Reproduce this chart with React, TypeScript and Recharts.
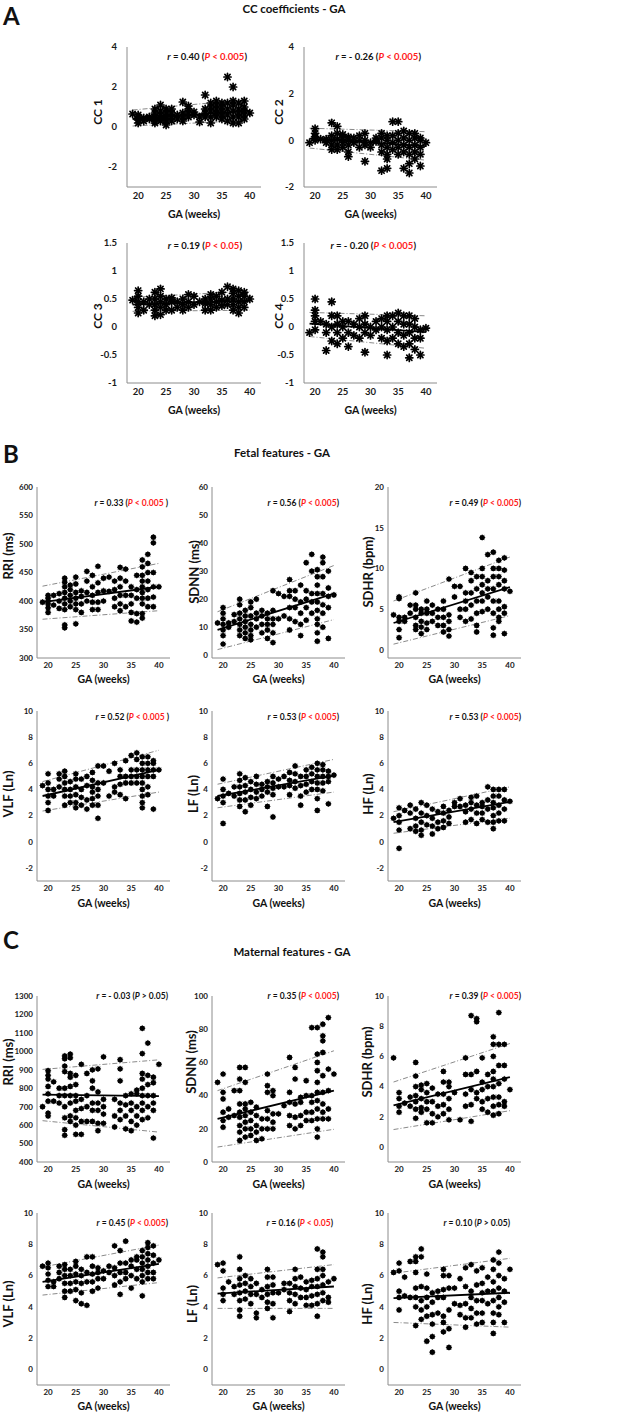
import { ScatterChart, Scatter, XAxis, YAxis, ReferenceLine } from 'recharts'

type Col = [number, number[]]
type Seg = [[number, number], [number, number]]

// ---- A: CC coefficients (values grouped by GA week) ----
const cc1: Col[] = [
  [19, [0.65]], [20, [0.2, 0.35, 0.5, 0.6]], [21, [0.3, 0.45]], [22, [0.4, 0.5]],
  [23, [0.2, 0.3, 0.5, 0.7, 0.9]], [24, [0.3, 0.45, 0.6, 0.8, 1.1]], [25, [0.1, 0.3, 0.5, 0.7, 0.9]],
  [26, [0.3, 0.5, 0.7, 0.9]], [27, [0.4, 0.6]], [28, [0.3, 0.5, 0.7, 1.25]], [29, [0.5, 0.7, 0.9, 1.05]],
  [30, [0.6, 0.75]], [31, [0.25, 0.5]], [32, [0.5, 0.7, 0.9, 1.6]], [33, [0.2, 0.5, 0.8, 1.0, 1.2]],
  [34, [0.5, 0.7, 0.9, 1.1, 1.3]], [35, [0.4, 0.6, 0.8, 1.0, 1.2]], [36, [0.3, 0.6, 0.9, 1.2, 2.5]],
  [37, [0.2, 0.5, 0.8, 1.1, 1.3, 2.0]], [38, [0.2, 0.5, 0.7, 0.9, 1.2]], [39, [0.4, 0.6, 0.8, 1.0, 1.3]],
  [40, [0.7]],
]
const cc2: Col[] = [
  [19, [-0.1]], [20, [0.0, 0.15, 0.3, 0.5]], [21, [0.05]], [22, [-0.1, 0.05]],
  [23, [-0.4, -0.2, 0.0, 0.2, 0.75]], [24, [-0.4, -0.2, 0.05, 0.3, 0.6]], [25, [-0.3, -0.1, 0.1, 0.25]],
  [26, [-0.7, -0.5, -0.2, 0.0, 0.15]], [27, [-0.1, 0.1]], [28, [-0.3, 0.0, 0.2]], [29, [-0.9, -0.2, 0.0, 0.3]],
  [30, [-0.3, -0.1]], [31, [-0.05, 0.1]], [32, [-1.3, -0.5, -0.2, 0.1, 0.3]],
  [33, [-1.2, -0.8, -0.6, -0.3, 0.0, 0.2]], [34, [-0.4, -0.1, 0.2, 0.8]], [35, [-0.6, -0.3, 0.0, 0.3, 0.8]],
  [36, [-1.2, -0.5, -0.2, 0.1, 0.4]], [37, [-1.4, -1.0, -0.6, -0.3, 0.0, 0.3]],
  [38, [-0.8, -0.5, -0.2, 0.1, 0.3]], [39, [-1.1, -0.6, -0.3, 0.0, 0.1]], [40, [-0.1]],
]
const cc3: Col[] = [
  [19, [0.48]], [20, [0.25, 0.35, 0.45, 0.55, 0.65]], [21, [0.3, 0.45]], [22, [0.4, 0.5]],
  [23, [0.2, 0.3, 0.4, 0.5, 0.62]], [24, [0.22, 0.35, 0.45, 0.55, 0.68]], [25, [0.3, 0.4, 0.5]],
  [26, [0.3, 0.45, 0.52]], [27, [0.35, 0.45]], [28, [0.3, 0.4, 0.5]], [29, [0.35, 0.45, 0.58]],
  [30, [0.4, 0.55]], [31, [0.45]], [32, [0.3, 0.42, 0.5]], [33, [0.3, 0.4, 0.5, 0.58]],
  [34, [0.35, 0.45, 0.55]], [35, [0.38, 0.48, 0.62]], [36, [0.4, 0.5, 0.72]],
  [37, [0.3, 0.4, 0.5, 0.6, 0.68]], [38, [0.25, 0.35, 0.45, 0.55, 0.65]], [39, [0.35, 0.45, 0.55, 0.62]],
  [40, [0.5]],
]
const cc4: Col[] = [
  [19, [-0.1]], [20, [-0.05, 0.1, 0.2, 0.3, 0.5]], [21, [0.1]], [22, [-0.42, -0.1, 0.05]],
  [23, [-0.25, 0.0, 0.2, 0.45]], [24, [-0.3, -0.1, 0.05, 0.2]], [25, [-0.2, 0.0, 0.1]],
  [26, [-0.35, -0.1, 0.1]], [27, [-0.15, 0.05]], [28, [-0.2, 0.0, 0.15]], [29, [-0.45, -0.1, 0.05, 0.2]],
  [30, [-0.15, 0.0]], [31, [-0.05, 0.1]], [32, [-0.2, 0.0, 0.15]], [33, [-0.5, -0.25, -0.05, 0.1, 0.2]],
  [34, [-0.2, 0.0, 0.2]], [35, [-0.3, -0.1, 0.1, 0.25]], [36, [-0.35, -0.15, 0.05, 0.2]],
  [37, [-0.55, -0.3, -0.1, 0.05, 0.2]], [38, [-0.4, -0.2, 0.0, 0.15]], [39, [-0.5, -0.2, -0.05]],
  [40, [-0.02]],
]

// ---- B: fetal features ----
const fRri: Col[] = [
  [19, [398]], [20, [380, 388, 395, 400, 405, 410]], [21, [393, 410]], [22, [387, 400, 413]],
  [23, [353, 358, 385, 395, 405, 415, 425, 433, 440]], [24, [390, 400, 410, 420, 428]],
  [25, [360, 385, 395, 405, 415, 430, 442]], [26, [380, 395, 408, 418]], [27, [400, 415, 435, 452]],
  [28, [385, 398, 410, 425, 445]], [29, [385, 398, 415, 432, 461]], [30, [400, 418, 440]], [31, [417, 442]],
  [32, [390, 405, 420, 435]], [33, [383, 395, 410, 425, 440, 459]], [34, [390, 410, 435, 456]],
  [35, [365, 380, 395, 410, 425]], [36, [363, 378, 405, 420, 445]],
  [37, [370, 378, 395, 405, 415, 425, 435, 445, 460, 472]], [38, [390, 405, 420, 435, 450, 466, 482]],
  [39, [390, 407, 425, 450, 502, 512]], [40, [425]],
]
const fSdnn: Col[] = [
  [19, [11.5]], [20, [4, 7, 9, 11, 13, 15, 17]], [21, [10, 11.5]], [22, [12, 14.5]],
  [23, [7, 9, 11, 13, 15, 18, 20]], [24, [6, 8, 10, 12, 14, 16]], [25, [5.5, 7, 9, 11, 14, 17, 19]],
  [26, [10, 13, 15, 20]], [27, [8, 11, 14, 16]], [28, [6, 9, 11, 13, 15]], [29, [4.5, 8, 11, 13, 16, 23]],
  [30, [13, 22]], [31, [14, 21]], [32, [9, 13, 17, 21, 23, 27]], [33, [12, 17, 20, 23]],
  [34, [7, 11, 15, 19, 25]], [35, [12.5, 17, 20, 23, 33]], [36, [15, 19, 22, 30, 36]],
  [37, [5, 8, 11, 13, 16, 19, 22, 25, 28, 30.5]], [38, [10, 15, 18, 22, 28, 33, 35]],
  [39, [6, 17, 21, 24, 30]], [40, [21.5]],
]
const fSdhr: Col[] = [
  [19, [4.3]], [20, [1.5, 2.5, 3.5, 4, 6.3, 6.5]], [21, [3.5, 4]], [22, [4.5, 5.5]],
  [23, [2.5, 3, 4, 5, 5.5, 7]], [24, [2, 2.8, 3.5, 4.5, 5]], [25, [2.5, 3.3, 4.5, 5, 6]],
  [26, [3.5, 4.5, 5.5]], [27, [3, 4, 5]], [28, [2.2, 3, 4, 5, 6]], [29, [1.7, 2.5, 3.5, 4.3, 8.7]],
  [30, [6.5, 7.8]], [31, [4, 5, 7.8]], [32, [3.5, 5, 6, 7, 10]], [33, [3.8, 5.5, 7, 8.5, 9.5]],
  [34, [2.2, 3, 4.5, 6, 7.5, 9]], [35, [4.7, 6, 7, 8, 9, 10, 13.8]], [36, [5, 6.5, 7.5, 8.5, 11.7]],
  [37, [1.8, 2.7, 4.5, 6, 7.5, 9, 10, 12]], [38, [3.5, 4, 5, 6, 8, 9, 10, 11]],
  [39, [2, 4.5, 5.3, 7.5, 8.5, 9.8, 11.3]], [40, [7.2]],
]
const fVlf: Col[] = [
  [19, [4.3]], [20, [2.4, 3, 3.5, 4, 4.5, 5.2]], [21, [3.5, 4]], [22, [4.2, 4.8, 5.2]],
  [23, [2.8, 3.5, 4, 4.5, 5, 5.4]], [24, [3, 3.5, 4, 4.6]], [25, [2.6, 3, 3.6, 4.2, 4.8, 5.2]],
  [26, [2.8, 3.4, 4, 4.8]], [27, [2.5, 3.2, 4.3, 5]], [28, [2.8, 3.3, 3.8, 4.2, 4.7, 5.3]],
  [29, [1.8, 2.8, 3.5, 4, 4.5, 5.8]], [30, [4.5, 5.8]], [31, [3.5, 5.4]], [32, [3.8, 4.2, 6]],
  [33, [3.6, 4.4, 5, 5.5]], [34, [3.3, 4.5, 5, 6.2]], [35, [4.5, 5, 5.5, 6.6]], [36, [4.5, 5, 5.5, 6.3, 6.8]],
  [37, [2.6, 3, 3.5, 4, 4.5, 5, 5.5, 6, 6.5]], [38, [3.6, 4.2, 5, 5.5, 6, 6.5]], [39, [2.5, 5, 5.5, 6, 6.2]],
  [40, [5.5]],
]
const fLf: Col[] = [
  [19, [3.3]], [20, [1.4, 3, 3.5, 4, 4.8]], [21, [3.7]], [22, [3.5, 4.2]],
  [23, [2.7, 3.2, 3.7, 4.2, 4.7, 5.2]], [24, [2.3, 3.2, 3.8, 4.3, 4.9]], [25, [2.8, 3.4, 4, 4.6]],
  [26, [3.3, 3.8, 4.4, 5]], [27, [3.5, 4, 4.4]], [28, [2.7, 3.8, 4.2, 4.6]], [29, [1.9, 3.6, 4.1, 4.5, 5]],
  [30, [4.2, 4.8]], [31, [4.2, 5]], [32, [3.6, 4.3, 4.7, 5.3]], [33, [4.1, 4.6, 5.2, 5.8]],
  [34, [2.8, 3.5, 4.3, 5]], [35, [3.8, 4.4, 5, 5.5]], [36, [4, 4.6, 5.2, 5.7]],
  [37, [2.4, 3.3, 4, 4.5, 5, 5.5, 6]], [38, [3.9, 4.5, 5, 5.5, 5.9]], [39, [2.9, 4.6, 5, 5.4]], [40, [5.1]],
]
const fHf: Col[] = [
  [19, [1.8]], [20, [-0.5, 0.9, 1.5, 2, 2.6]], [21, [2.4]], [22, [1, 2.2, 2.8]],
  [23, [0.8, 1.2, 1.8, 2.5]], [24, [0.5, 0.9, 1.5, 2.2, 3]], [25, [1.3, 2, 2.8]], [26, [0.6, 1.2, 1.8, 2.5]],
  [27, [1, 1.5, 2.3]], [28, [1.1, 1.6, 2.2, 2.7]], [29, [1.4, 1.9, 2.4]], [30, [2.7, 3]], [31, [2.7, 3.3]],
  [32, [1.5, 2.3, 2.8]], [33, [1.7, 2.5, 3, 3.4]], [34, [1.4, 2.2, 2.8, 3.5]], [35, [1.7, 2.2, 2.7, 3]],
  [36, [1.5, 2.5, 3.2, 4.2]], [37, [1, 1.5, 2, 2.6, 3, 3.5, 4]], [38, [1.6, 2.2, 2.8, 3.5, 4]],
  [39, [1.6, 2.5, 3.2, 4]], [40, [3.1]],
]

// ---- C: maternal features ----
const mRri: Col[] = [
  [19, [700]], [20, [650, 665, 730, 770, 810, 850, 870, 895]], [21, [730, 835]], [22, [720, 760, 800]],
  [23, [545, 575, 640, 700, 760, 800, 890, 920, 960, 975]], [24, [620, 650, 720, 760, 810, 860, 880, 965, 985]],
  [25, [550, 600, 640, 680, 730, 760, 820, 870]], [26, [550, 620, 690, 740, 930]], [27, [620, 700, 760, 880]],
  [28, [620, 680, 720, 800, 840, 900]], [29, [570, 610, 680, 720, 780, 905]], [30, [610, 660, 700, 740, 970]],
  [32, [590, 650, 740]], [33, [630, 680, 720, 840, 905, 955]], [34, [580, 650, 710, 760]],
  [35, [570, 620, 680, 720, 770]], [36, [600, 650, 700, 770, 790]],
  [37, [630, 680, 720, 760, 800, 850, 880, 988, 1125]], [38, [640, 700, 760, 820, 870, 1045]],
  [39, [530, 680, 720, 760, 830, 860]], [40, [930]],
]
const mSdnn: Col[] = [
  [19, [48]], [20, [21, 25, 30, 38, 42, 53]], [21, [27, 32]], [22, [28, 43]],
  [23, [13, 18, 22, 27, 30, 35, 43, 50, 57]], [24, [15, 20, 24, 28, 32, 35, 48, 57]], [25, [16, 20, 25, 30, 36]],
  [26, [13, 18, 22, 28, 33]], [27, [14, 20, 26]], [28, [20, 26, 31, 42, 46, 53]], [29, [20, 24, 29, 40, 43]],
  [30, [29]], [31, [34]], [32, [22, 28, 36, 42, 63]], [33, [20, 27, 35, 50, 57]], [34, [22, 28, 36, 39]],
  [35, [25, 30, 40, 49]], [36, [25, 30, 36, 40, 81]], [37, [15, 20, 26, 32, 37, 42, 48, 55, 60, 65, 81]],
  [38, [26, 30, 35, 42, 52, 66, 73, 76, 83]], [39, [26, 32, 43, 56, 87]], [40, [53]],
]
const mSdhr: Col[] = [
  [19, [5.9]], [20, [2.3, 2.7, 3.2, 3.6]], [21, [2.9]], [22, [2.7, 3.3]], [23, [1.9, 2.5, 3, 3.4, 4, 4.7, 5.6]],
  [24, [2.3, 2.6, 3.2, 3.8, 4.1]], [25, [1.6, 2.5, 3, 3.6, 4.2]], [26, [1.6, 2.2, 3, 3.9]], [27, [2, 2.7, 3.5]],
  [28, [2.2, 2.8, 3.5, 4.3, 5]], [29, [1.8, 2.5, 3.2, 4, 4.3]], [30, [3.6]], [31, [1.8]],
  [32, [2.7, 3.5, 4.8, 5.9]], [33, [1.7, 2.8, 3.8, 4.8, 8.7]], [34, [3.2, 3.6, 5, 8.3, 8.5]],
  [35, [2.5, 3, 3.8, 4.3, 5.9]], [36, [2.3, 3.2, 4, 4.8]], [37, [2.1, 2.7, 3.3, 4, 4.5, 5, 6, 6.8, 7.3]],
  [38, [2.2, 2.8, 3.3, 4.2, 5.4, 6.8, 8.9]], [39, [2.7, 3, 4.5, 5.4, 6.8]], [40, [3.8]],
]
const mVlf: Col[] = [
  [19, [6.6]], [20, [5.3, 5.7, 6.1, 6.5, 6.8]], [21, [5.3, 5.6]], [22, [5.8, 6.2, 6.6]],
  [23, [4.6, 5, 5.5, 6, 6.4, 6.7]], [24, [5, 5.5, 6, 6.4]], [25, [4.4, 5.1, 5.6, 6.1, 6.6, 6.9]],
  [26, [4.2, 4.9, 5.5, 6, 6.4]], [27, [4.1, 5.6, 6.2, 7.2]], [28, [5, 5.6, 6.1, 6.6, 7.2]],
  [29, [5.2, 5.8, 6.2, 6.5]], [30, [5.8, 6.3]], [31, [6.2, 6.6]], [32, [5.4, 6, 6.5, 7.9]],
  [33, [4.8, 5.6, 6.2, 6.8, 7.6]], [34, [5.8, 6.2, 6.8, 8.2]], [35, [5.2, 6, 6.6, 7]], [36, [5.8, 6.4, 7, 7.2]],
  [37, [4.7, 5.6, 6, 6.4, 6.8, 7.2, 7.6]], [38, [5.8, 6.2, 6.6, 7, 7.4, 7.8, 8.1]],
  [39, [5.8, 6.2, 6.8, 7.3, 7.9]], [40, [7]],
]
const mLf: Col[] = [
  [19, [6.7]], [20, [4.4, 4.8, 5.2, 6.3, 6.8]], [21, [5.6]], [22, [4.8, 5.3]],
  [23, [3.4, 3.8, 4.4, 4.9, 5.4, 5.8, 6.4, 7.2]], [24, [4.5, 5, 5.5, 6]], [25, [4.2, 4.8, 5.3, 5.8]],
  [26, [3.3, 3.6, 4.8, 5.5]], [27, [4.6, 5.1]], [28, [3.9, 4.3, 4.8, 5.3, 5.9, 6.4]],
  [29, [3.3, 4.2, 4.9, 5.4, 5.9]], [30, [4.9]], [31, [5.1, 5.5]], [32, [3.7, 4.4, 4.9, 5.5]],
  [33, [4.2, 4.8, 5.3, 5.8, 6.4]], [34, [4.6, 5.2, 5.9]], [35, [4.1, 4.6, 5.1, 5.6]], [36, [4.1, 4.7, 5.3, 5.7]],
  [37, [3.4, 4.2, 4.8, 5.3, 5.8, 6.4, 7.7]], [38, [4.4, 4.9, 5.4, 6, 6.4, 7.2, 7.5]], [39, [4.3, 4.6, 5.6]],
  [40, [5.8]],
]
const mHf: Col[] = [
  [19, [6.2]], [20, [3.8, 4.6, 5, 6.3, 6.8]], [21, [4.7, 5.9]], [22, [4.6, 6.9]],
  [23, [2.8, 4, 4.6, 5.2, 6.2, 6.9, 7.2]], [24, [3.2, 3.8, 4.4, 5.3, 7.2, 7.7]], [25, [1.8, 3.4, 4, 4.6, 5.2, 6.1]],
  [26, [1.1, 2.1, 2.9, 3.5, 4.3, 4.9]], [27, [3.6, 4.6, 5]], [28, [2.4, 3, 3.4, 4.6, 5.1, 6, 6.4]],
  [29, [1.4, 2.6, 3.8, 5.2, 6]], [30, [4.2, 5.2]], [31, [3.5, 4.1, 5.8]], [32, [2.7, 3.3, 4.2, 5.3, 6.5]],
  [33, [3.3, 3.9, 4.6, 5, 6.7]], [34, [2.9, 3.6, 4.4, 5.4, 6.3]], [35, [3, 3.6, 4.4, 4.9, 5.5, 6.5]],
  [36, [4.2, 5, 5.9]], [37, [2.3, 3, 3.6, 4.4, 5, 5.6, 6.4, 7]], [38, [3.5, 4, 4.6, 5.2, 6, 6.8, 7.5]],
  [39, [3, 4.3, 5, 5.8]], [40, [6.4]],
]

// regression line and its prediction bounds: [fit, upper, lower]
const cc1Lines: Seg[] = [[[19, 0.4], [40, 0.82]], [[19, 0.85], [40, 1.38]], [[19, 0.05], [40, 0.33]]]
const cc2Lines: Seg[] = [[[19, 0.07], [40, -0.25]], [[19, 0.52], [40, 0.37]], [[19, -0.33], [40, -0.85]]]
const cc3Lines: Seg[] = [[[19, 0.4], [40, 0.47]], [[19, 0.53], [40, 0.64]], [[19, 0.28], [40, 0.3]]]
const cc4Lines: Seg[] = [[[19, 0.06], [40, -0.09]], [[19, 0.26], [40, 0.2]], [[19, -0.17], [40, -0.38]]]
const fRriLines: Seg[] = [[[19, 398], [40, 425]], [[19, 426], [40, 466]], [[19, 368], [40, 383]]]
const fSdnnLines: Seg[] = [[[19, 9], [40, 22]], [[19, 15.5], [40, 32]], [[19, 2], [40, 12.7]]]
const fSdhrLines: Seg[] = [[[19, 3.3], [40, 7.7]], [[19, 6], [40, 11.4]], [[19, 0.7], [40, 4.2]]]
const fVlfLines: Seg[] = [[[19, 3.5], [40, 5.5]], [[19, 4.6], [40, 7.0]], [[19, 2.35], [40, 3.8]]]
const fLfLines: Seg[] = [[[19, 3.5], [40, 5.05]], [[19, 4.4], [40, 6.3]], [[19, 2.6], [40, 3.8]]]
const fHfLines: Seg[] = [[[19, 1.5], [40, 3.05]], [[19, 2.3], [40, 4.2]], [[19, 0.65], [40, 1.8]]]
const mRriLines: Seg[] = [[[19, 765], [40, 757]], [[19, 902], [40, 954]], [[19, 624], [40, 562]]]
const mSdnnLines: Seg[] = [[[19, 26], [40, 43]], [[19, 43], [40, 67]], [[19, 9], [40, 19.7]]]
const mSdhrLines: Seg[] = [[[19, 2.75], [40, 4.62]], [[19, 4.3], [40, 6.85]], [[19, 1.15], [40, 2.4]]]
const mVlfLines: Seg[] = [[[19, 5.6], [40, 6.75]], [[19, 6.55], [40, 7.95]], [[19, 4.75], [40, 5.55]]]
const mLfLines: Seg[] = [[[19, 4.85], [40, 5.3]], [[19, 5.85], [40, 6.7]], [[19, 3.9], [40, 3.9]]]
const mHfLines: Seg[] = [[[19, 4.55], [40, 4.9]], [[19, 6.15], [40, 7.1]], [[19, 3.0], [40, 2.7]]]

const gaTicks = [20, 25, 30, 35, 40]
const ccWideTicks = [-2, 0, 2, 4]
const ccNarrowTicks = [-1, -0.5, 0, 0.5, 1, 1.5]
const rriFetalTicks = [300, 350, 400, 450, 500, 550, 600]
const sdnnFetalTicks = [0, 10, 20, 30, 40, 50, 60]
const sdhrFetalTicks = [0, 5, 10, 15, 20]
const powerFetalTicks = [-2, 0, 2, 4, 6, 8, 10]
const rriMatTicks = [400, 500, 600, 700, 800, 900, 1000, 1100, 1200, 1300]
const sdnnMatTicks = [0, 20, 40, 60, 80, 100]
const zeroToTenTicks = [0, 2, 4, 6, 8, 10]

const FONT = "Lato, 'Liberation Sans', Arial, sans-serif"
const RED = '#ff1a1a'
const YW = 45
const TOP = 10
const RIGHT = 12
const XH = 40

const toPoints = (cols: Col[]) => cols.flatMap(([x, ys]) => ys.map((y) => ({ x, y })))

// MATLAB-like '*' marker, drawn heavy as in the figure
function Asterisk(props: any) {
  const { cx, cy } = props
  if (cx == null || cy == null) return <g />
  const r = 3.6
  const d = r * 0.72
  return (
    <g stroke="#000" strokeWidth={1.7} strokeLinecap="round">
      <circle cx={cx} cy={cy} r={1.9} fill="#000" stroke="none" />
      <line x1={cx - r} y1={cy} x2={cx + r} y2={cy} />
      <line x1={cx} y1={cy - r} x2={cx} y2={cy + r} />
      <line x1={cx - d} y1={cy - d} x2={cx + d} y2={cy + d} />
      <line x1={cx - d} y1={cy + d} x2={cx + d} y2={cy - d} />
    </g>
  )
}

function Dot(props: any) {
  const { cx, cy } = props
  if (cx == null || cy == null) return <g />
  const r = 3.1
  const d = r * 0.7
  return (
    <g>
      <circle cx={cx} cy={cy} r={2.6} fill="#000" />
      <g stroke="#000" strokeWidth={0.7}>
        <line x1={cx - r} y1={cy} x2={cx + r} y2={cy} />
        <line x1={cx} y1={cy - r} x2={cx} y2={cy + r} />
        <line x1={cx - d} y1={cy - d} x2={cx + d} y2={cy + d} />
        <line x1={cx - d} y1={cy + d} x2={cx + d} y2={cy - d} />
      </g>
    </g>
  )
}

interface PanelProps {
  cols: Col[]
  lines: Seg[]
  yDomain: [number, number]
  yTicks: number[]
  yLabel: string
  x0: number
  x1: number
  y0: number
  y1: number
  rText: string
  pText: string
  close?: string
  sig: boolean
  rEnd: number
  rY: number
  yLabelX: number
  yLabelY: number
  xLabelY: number
  star?: boolean
  big?: boolean
}

function Panel(p: PanelProps) {
  const w = YW + (p.x1 - p.x0) + RIGHT
  const h = TOP + (p.y1 - p.y0) + XH
  const cx = (px: number) => px - p.x0 + YW
  const cy = (py: number) => py - p.y0 + TOP
  const tickSize = p.big ? 9.5 : 8
  const axisLine = { stroke: '#8c8c8c', strokeWidth: 1 }
  const pColor = p.sig ? RED : '#111'
  return (
    <div style={{ position: 'absolute', left: p.x0 - YW, top: p.y0 - TOP, width: w, height: h }}>
      <ScatterChart width={w} height={h} margin={{ top: TOP, right: RIGHT, bottom: 0, left: 0 }}>
        <XAxis
          type="number"
          dataKey="x"
          domain={[18, 42]}
          ticks={gaTicks}
          allowDataOverflow
          height={XH}
          tickLine={false}
          tickSize={0}
          axisLine={axisLine}
          tickMargin={p.big ? 5 : 4}
          tick={{ fontSize: tickSize, fontWeight: 700, fill: '#1a1a1a' }}
        />
        <YAxis
          type="number"
          dataKey="y"
          domain={p.yDomain}
          ticks={p.yTicks}
          allowDataOverflow
          interval={0}
          width={YW}
          tickLine={false}
          tickSize={0}
          axisLine={axisLine}
          tickMargin={p.big ? 10 : 4}
          tick={{ fontSize: tickSize, fontWeight: 700, fill: '#1a1a1a' }}
        />
        {p.lines.map((s, i) => (
          <ReferenceLine
            key={i}
            segment={[{ x: s[0][0], y: s[0][1] }, { x: s[1][0], y: s[1][1] }]}
            ifOverflow="visible"
            stroke={i === 0 ? '#000' : '#8a8a8a'}
            strokeWidth={i === 0 ? 1.8 : 1}
            strokeDasharray={i === 0 ? undefined : '5 2 1 2'}
          />
        ))}
        <Scatter
          data={toPoints(p.cols)}
          fill="#000"
          shape={p.star ? Asterisk : Dot}
          isAnimationActive={false}
        />
        <text
          x={cx(p.rEnd)}
          y={cy(p.rY)}
          textAnchor="end"
          dominantBaseline="central"
          fontSize={p.big ? 9.5 : 8.5}
          fontWeight={700}
          fill="#111"
        >
          <tspan fontStyle="italic">r</tspan>
          <tspan>{p.rText}</tspan>
          <tspan fill={pColor} fontStyle="italic">P</tspan>
          <tspan fill={pColor}>{p.pText}</tspan>
          <tspan>{p.close ?? ')'}</tspan>
        </text>
        <text
          x={cx(p.yLabelX)}
          y={cy(p.yLabelY)}
          textAnchor="middle"
          dominantBaseline="central"
          transform={`rotate(-90 ${cx(p.yLabelX)} ${cy(p.yLabelY)})`}
          fontSize={p.big ? 12 : 13}
          fontWeight={700}
          fill="#111"
        >
          {p.yLabel}
        </text>
        <text
          x={cx((p.x0 + p.x1) / 2)}
          y={cy(p.xLabelY)}
          textAnchor="middle"
          dominantBaseline="central"
          fontSize={10.5}
          fontWeight={700}
          fill="#111"
        >
          GA (weeks)
        </text>
      </ScatterChart>
    </div>
  )
}

const letter = (t: string, top: number) => (
  <div style={{ position: 'absolute', left: 3, top, fontSize: 24, fontWeight: 700, lineHeight: '24px' }}>{t}</div>
)
const title = (t: string, cxp: number, cyp: number) => (
  <div
    style={{
      position: 'absolute',
      left: cxp - 150,
      width: 300,
      top: cyp - 7,
      textAlign: 'center',
      fontSize: 11.5,
      fontWeight: 700,
      lineHeight: '14px',
    }}
  >
    {t}
  </div>
)

// column positions (page px) for B and C
const COLS = [
  { x0: 37, x1: 170 },
  { x0: 212, x1: 345 },
  { x0: 388, x1: 521 },
]

export default function App() {
  return (
    <div
      style={{
        position: 'absolute',
        left: 0,
        top: 0,
        width: 617,
        height: 1414,
        background: '#fff',
        fontFamily: FONT,
        color: '#111',
        overflow: 'hidden',
      }}
    >
      {letter('A', 4)}
      {title('CC coefficients - GA', 294, 9)}
      <Panel cols={cc1} lines={cc1Lines} yDomain={[-3, 4]} yTicks={ccWideTicks} yLabel="CC 1"
        x0={127} x1={261} y0={47} y1={187} rText=" = 0.40 (" pText=" < 0.005" sig rEnd={247} rY={56}
        yLabelX={97} yLabelY={112} xLabelY={214} star big />
      <Panel cols={cc2} lines={cc2Lines} yDomain={[-2, 4]} yTicks={ccWideTicks} yLabel="CC 2"
        x0={304} x1={437} y0={47} y1={187} rText=" =  - 0.26 (" pText=" < 0.005" sig rEnd={421} rY={56}
        yLabelX={278} yLabelY={112} xLabelY={214} star big />
      <Panel cols={cc3} lines={cc3Lines} yDomain={[-1, 1.5]} yTicks={ccNarrowTicks} yLabel="CC 3"
        x0={127} x1={261} y0={243} y1={383} rText=" = 0.19 (" pText=" < 0.05" sig rEnd={242} rY={245}
        yLabelX={97} yLabelY={316} xLabelY={410} star big />
      <Panel cols={cc4} lines={cc4Lines} yDomain={[-1, 1.5]} yTicks={ccNarrowTicks} yLabel="CC 4"
        x0={304} x1={437} y0={243} y1={383} rText=" =  - 0.20 (" pText=" < 0.005" sig rEnd={416} rY={245}
        yLabelX={278} yLabelY={316} xLabelY={410} star big />

      {letter('B', 442)}
      {title('Fetal features - GA', 282, 453)}
      <Panel cols={fRri} lines={fRriLines} yDomain={[300, 600]} yTicks={rriFetalTicks} yLabel="RRI (ms)"
        {...COLS[0]} y0={487} y1={658} rText=" =  0.33 (" pText=" < 0.005" close=" )" sig rEnd={168} rY={503}
        yLabelX={8} yLabelY={556} xLabelY={679} />
      <Panel cols={fSdnn} lines={fSdnnLines} yDomain={[-1, 60]} yTicks={sdnnFetalTicks} yLabel="SDNN (ms)"
        {...COLS[1]} y0={487} y1={658} rText=" =  0.56 (" pText=" < 0.005" sig rEnd={339} rY={503}
        yLabelX={194} yLabelY={572} xLabelY={679} />
      <Panel cols={fSdhr} lines={fSdhrLines} yDomain={[-1, 20]} yTicks={sdhrFetalTicks} yLabel="SDHR (bpm)"
        {...COLS[2]} y0={487} y1={658} rText=" =  0.49 (" pText=" < 0.005" sig rEnd={521} rY={503}
        yLabelX={368} yLabelY={572} xLabelY={679} />
      <Panel cols={fVlf} lines={fVlfLines} yDomain={[-3, 10]} yTicks={powerFetalTicks} yLabel="VLF (Ln)"
        {...COLS[0]} y0={711} y1={881} rText=" =  0.52 (" pText=" < 0.005" close=" )" sig rEnd={169} rY={717}
        yLabelX={8} yLabelY={794} xLabelY={903} />
      <Panel cols={fLf} lines={fLfLines} yDomain={[-3, 10]} yTicks={powerFetalTicks} yLabel="LF (Ln)"
        {...COLS[1]} y0={711} y1={881} rText=" =  0.53 (" pText=" < 0.005" sig rEnd={339} rY={717}
        yLabelX={193} yLabelY={794} xLabelY={903} />
      <Panel cols={fHf} lines={fHfLines} yDomain={[-3, 10]} yTicks={powerFetalTicks} yLabel="HF (Ln)"
        {...COLS[2]} y0={711} y1={881} rText=" =  0.53 (" pText=" < 0.005" sig rEnd={521} rY={717}
        yLabelX={368} yLabelY={794} xLabelY={903} />

      {letter('C', 928)}
      {title('Maternal features - GA', 292, 952)}
      <Panel cols={mRri} lines={mRriLines} yDomain={[400, 1300]} yTicks={rriMatTicks} yLabel="RRI (ms)"
        {...COLS[0]} y0={996} y1={1162} rText=" = - 0.03 (" pText=" > 0.05" sig={false} rEnd={168} rY={996}
        yLabelX={8} yLabelY={1062} xLabelY={1184} />
      <Panel cols={mSdnn} lines={mSdnnLines} yDomain={[0, 100]} yTicks={sdnnMatTicks} yLabel="SDNN (ms)"
        {...COLS[1]} y0={996} y1={1162} rText=" =  0.35 (" pText=" < 0.005" sig rEnd={339} rY={996}
        yLabelX={191} yLabelY={1062} xLabelY={1184} />
      <Panel cols={mSdhr} lines={mSdhrLines} yDomain={[-1, 10]} yTicks={zeroToTenTicks} yLabel="SDHR (bpm)"
        {...COLS[2]} y0={996} y1={1162} rText=" =  0.39 (" pText=" < 0.005" sig rEnd={521} rY={996}
        yLabelX={367} yLabelY={1062} xLabelY={1184} />
      <Panel cols={mVlf} lines={mVlfLines} yDomain={[-1, 10]} yTicks={zeroToTenTicks} yLabel="VLF (Ln)"
        {...COLS[0]} y0={1213} y1={1385} rText=" = 0.45 (" pText=" < 0.005" sig rEnd={168} rY={1223}
        yLabelX={8} yLabelY={1304} xLabelY={1406} />
      <Panel cols={mLf} lines={mLfLines} yDomain={[-1, 10]} yTicks={zeroToTenTicks} yLabel="LF (Ln)"
        {...COLS[1]} y0={1213} y1={1385} rText=" =  0.16 (" pText=" < 0.05" sig rEnd={333} rY={1223}
        yLabelX={192} yLabelY={1304} xLabelY={1406} />
      <Panel cols={mHf} lines={mHfLines} yDomain={[-1, 10]} yTicks={zeroToTenTicks} yLabel="HF (Ln)"
        {...COLS[2]} y0={1213} y1={1385} rText=" =  0.10 (" pText=" > 0.05" sig={false} rEnd={510} rY={1223}
        yLabelX={367} yLabelY={1304} xLabelY={1406} />
    </div>
  )
}
